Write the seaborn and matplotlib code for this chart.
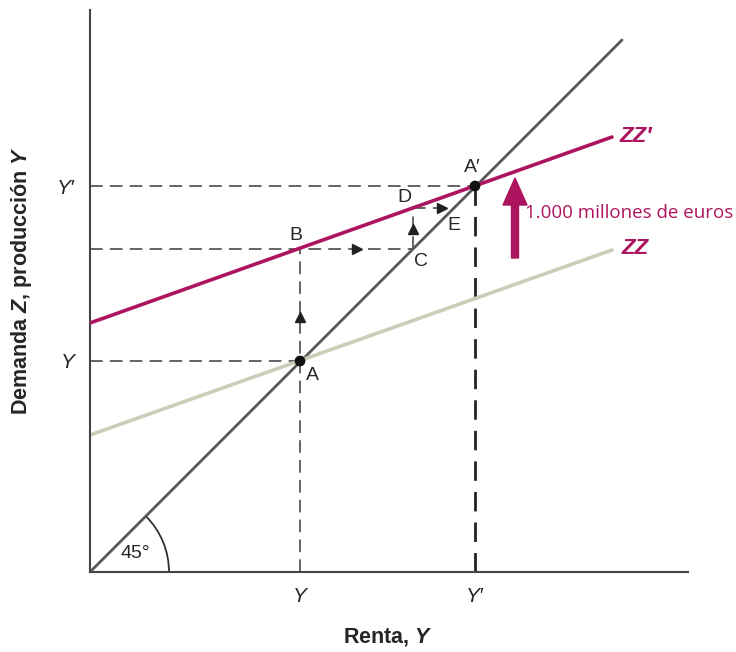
import numpy as np
import pandas as pd
import matplotlib
matplotlib.use('Agg')
import matplotlib.pyplot as plt
from matplotlib.patches import Arc
import seaborn as sns

# data (units = arbitrary, origin at 0)
line45_x = [0, 532]
line45_y = [0, 532]
zz_x = [0, 522]
zz_y = [137, 322]
zzp_x = [0, 522]
zzp_y = [249, 435]

Y = 210
Yp = 385
pt_names = ['A', 'B', 'C', 'D', 'E', "A′"]
pt_x = [210, 210, 323, 323, 364, 385]
pt_y = [211, 323, 323, 364, 364, 386]

magenta = '#ad145f'
zz_col = '#c9cfb6'
grey = '#585858'

sns.set_style('white')
plt.rcParams['font.family'] = ['Liberation Sans', 'DejaVu Sans']
plt.rcParams['mathtext.fontset'] = 'custom'
plt.rcParams['mathtext.bf'] = 'Liberation Sans:bold:italic'
plt.rcParams['mathtext.it'] = 'Liberation Sans:italic'

fig = plt.figure(figsize=(7.36, 6.52), dpi=100)
ax = fig.add_axes([90 / 736, 80 / 652, 598 / 736, 562 / 652])
ax.set_xlim(0, 598)
ax.set_ylim(0, 562)

# guide lines (dashed)
dash = dict(color=grey, lw=1.3, dashes=(7, 4), zorder=1)
A = (pt_x[0], pt_y[0]); B = (pt_x[1], pt_y[1]); C = (pt_x[2], pt_y[2])
D = (pt_x[3], pt_y[3]); E = (pt_x[4], pt_y[4]); Ap = (pt_x[5], pt_y[5])
ax.plot([0, A[0]], [A[1], A[1]], **dash)
ax.plot([0, C[0]], [B[1], B[1]], **dash)
ax.plot([0, Ap[0]], [Ap[1], Ap[1]], **dash)
ax.plot([Y, Y], [0, B[1]], **dash)
ax.plot([C[0], D[0]], [C[1], D[1]], **dash)
ax.plot([D[0], E[0]], [D[1], E[1]], **dash)
ax.plot([Yp, Yp], [0, Ap[1]], color='#222222', lw=2, dashes=(7, 4), zorder=1)

# main lines
sns.lineplot(x=line45_x, y=line45_y, color=grey, lw=2, ax=ax, zorder=2)
sns.lineplot(x=zz_x, y=zz_y, color=zz_col, lw=2.6, ax=ax, zorder=2)
sns.lineplot(x=zzp_x, y=zzp_y, color=magenta, lw=2.6, ax=ax, zorder=3)

# equilibrium points
sns.scatterplot(x=[A[0], Ap[0]], y=[A[1], Ap[1]], color='#111111', s=60,
                ax=ax, zorder=5, edgecolor='none')

# small arrow heads along the adjustment path
heads = [((Y, (A[1] + B[1]) / 2 - 12), '^'),
         (((B[0] + C[0]) / 2, B[1]), '>'),
         ((C[0], (C[1] + D[1]) / 2), '^'),
         (((D[0] + E[0]) / 2 + 8, D[1]), '>')]
for (hx, hy), m in heads:
    ax.plot(hx, hy, marker=m, color='#222222', ms=7, zorder=4)

# point labels
lab_off = {'A': (12, -14), 'B': (-4, 14), 'C': (8, -13), 'D': (-9, 11),
           'E': (0, -17), "A′": (-3, 18)}
for n, x, y in zip(pt_names, pt_x, pt_y):
    dx, dy = lab_off[n]
    ax.text(x + dx, y + dy, n, fontsize=14, ha='center', va='center')

# 45 degree arc
ax.add_patch(Arc((0, 0), 158, 158, theta1=0, theta2=45, color='#333333', lw=1.3))
ax.text(45, 19, '45°', fontsize=14, ha='center', va='center')

# shift arrow (1.000 millones)
ax.arrow(425, 314, 0, 80, width=7, head_width=24, head_length=27,
         length_includes_head=True, color=magenta, zorder=4)
ax.text(435, 359, '1.000 millones de euros', color=magenta, fontsize=13.5,
        family='Open Sans', ha='left', va='center')
ax.text(530, 435, 'ZZ′', color=magenta, fontsize=16, fontweight='bold',
        style='italic', ha='left', va='center')
ax.text(532, 323, 'ZZ', color=magenta, fontsize=16, fontweight='bold',
        style='italic', ha='left', va='center')

# axes
sns.despine(ax=ax)
for s in ['left', 'bottom']:
    ax.spines[s].set_color('#444444')
    ax.spines[s].set_linewidth(1.5)
ax.set_xticks([Y, Yp])
ax.set_xticklabels(['Y', 'Y′'], fontsize=15, style='italic')
ax.set_yticks([A[1], Ap[1]])
ax.set_yticklabels(['Y', 'Y′'], fontsize=15, style='italic')
ax.tick_params(length=0, pad=11)
fig.text(388 / 736, 1 - 637 / 652, r'Renta, $\mathbf{Y}$', fontsize=15.5,
         fontweight='bold', ha='center', va='center')
fig.text(22 / 736, 1 - 281 / 652, r'Demanda $\mathbf{Z}$, producción $\mathbf{Y}$',
         fontsize=15.5, fontweight='bold', rotation=90, ha='center', va='center')

fig.savefig('out.png', dpi=100)
